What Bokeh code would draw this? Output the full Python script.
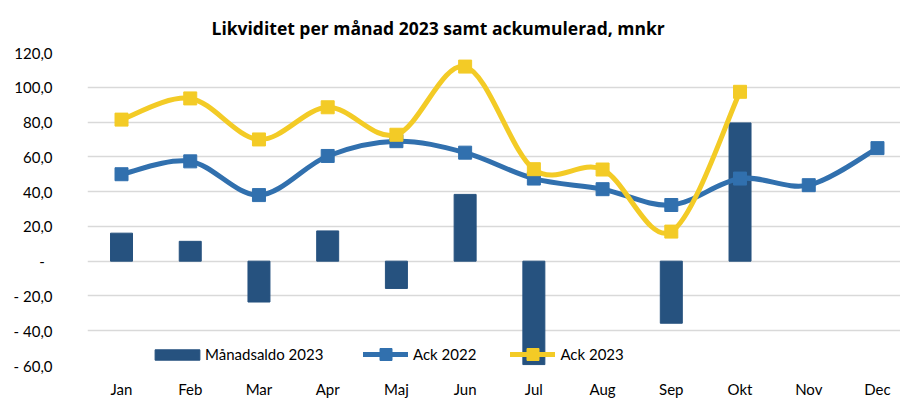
from bokeh.plotting import figure
from bokeh.models import (FixedTicker, Legend, LegendItem, ColumnDataSource, Range1d)
from bokeh.embed import file_html
from bokeh.resources import INLINE

title_text = "Likviditet per månad 2023 samt ackumulerad, mnkr"
months = ["Jan", "Feb", "Mar", "Apr", "Maj", "Jun", "Jul", "Aug", "Sep", "Okt", "Nov", "Dec"]
manadsaldo_2023 = [16.1, 11.4, -23.5, 17.4, -15.7, 38.4, -59.5, None, -35.7, 79.5, None, None]
ack_2022 = [50.0, 57.4, 38.0, 60.5, 69.0, 62.4, 47.5, 41.4, 32.3, 47.5, 43.7, 65.0]
ack_2023 = [81.4, 93.6, 70.0, 88.5, 72.7, 111.9, 52.9, 52.7, 17.0, 97.4, None, None]
y_ticks = [-60, -40, -20, 0, 20, 40, 60, 80, 100, 120]
y_tick_labels = ["-\u00a060,0", "-\u00a040,0", "-\u00a020,0", "-\u00a0\u00a0", "20,0", "40,0",
                 "60,0", "80,0", "100,0", "120,0"]

BAR = "#26527F"
BLUE = "#3170AE"
YELLOW = "#F3CB26"
FONT = "Lato"


def smooth_segments(xs, ys):
    """Excel-like smoothed line: cubic Bezier segments (Catmull-Rom control points)."""
    pts = [(x, y) for x, y in zip(xs, ys) if y is not None]
    x0s, y0s, x1s, y1s, cx0, cy0, cx1, cy1 = ([] for _ in range(8))
    n = len(pts)
    for i in range(n - 1):
        p0 = pts[i - 1] if i > 0 else pts[i]
        p1 = pts[i]
        p2 = pts[i + 1]
        p3 = pts[i + 2] if i + 2 < n else pts[i + 1]
        x0s.append(p1[0]); y0s.append(p1[1])
        x1s.append(p2[0]); y1s.append(p2[1])
        cx0.append(p1[0] + (p2[0] - p0[0]) / 6); cy0.append(p1[1] + (p2[1] - p0[1]) / 6)
        cx1.append(p2[0] - (p3[0] - p1[0]) / 6); cy1.append(p2[1] - (p3[1] - p1[1]) / 6)
    return dict(x0=x0s, y0=y0s, x1=x1s, y1=y1s, cx0=cx0, cy0=cy0, cx1=cx1, cy1=cy1)


idx = list(range(len(months)))

p = figure(width=900, height=400, output_backend="svg", toolbar_location=None,
           x_range=Range1d(-0.495, 11.335), y_range=Range1d(-60, 120),
           min_border_left=87, min_border_right=0, min_border_top=52, min_border_bottom=33)

p.title.text = title_text
p.title.text_font = "Open Sans"
p.title.text_font_size = "17.5px"
p.title.text_font_style = "bold"
p.title.text_color = "#000000"
p.title.align = "left"
p.title.offset = 124
p.title.standoff = 26

p.outline_line_color = None
p.xgrid.grid_line_color = None
p.ygrid.grid_line_color = "#D9D9D9"
p.ygrid.grid_line_width = 1.5
p.ygrid.ticker = FixedTicker(ticks=y_ticks)

p.yaxis.ticker = FixedTicker(ticks=y_ticks)
p.yaxis.major_label_overrides = {t: l for t, l in zip(y_ticks, y_tick_labels)}
p.xaxis.ticker = FixedTicker(ticks=idx)
p.xaxis.major_label_overrides = {i: m for i, m in zip(idx, months)}
for ax in (p.xaxis, p.yaxis):
    ax.axis_line_color = None
    ax.major_tick_line_color = None
    ax.minor_tick_line_color = None
    ax.major_tick_out = 0
    ax.major_tick_in = 0
    ax.minor_tick_out = 0
    ax.minor_tick_in = 0
    ax.major_label_text_font = FONT
    ax.major_label_text_font_size = "15px"
    ax.major_label_text_color = "#000000"
p.yaxis.major_label_standoff = 35
p.xaxis.major_label_standoff = 14

bar_x = [i for i, v in zip(idx, manadsaldo_2023) if v is not None]
bar_v = [v for v in manadsaldo_2023 if v is not None]
bars = p.vbar(x=bar_x, top=bar_v, bottom=0, width=0.32, fill_color=BAR, line_color=BAR)

seg22 = ColumnDataSource(smooth_segments(idx, ack_2022))
l22 = p.bezier(x0="x0", y0="y0", x1="x1", y1="y1", cx0="cx0", cy0="cy0", cx1="cx1", cy1="cy1",
               source=seg22, line_color=BLUE, line_width=5, line_cap="round")
m22 = p.scatter(x=idx, y=ack_2022, marker="square", size=13, fill_color=BLUE, line_color=BLUE)

x23 = [i for i, v in zip(idx, ack_2023) if v is not None]
y23 = [v for v in ack_2023 if v is not None]
seg23 = ColumnDataSource(smooth_segments(x23, y23))
l23 = p.bezier(x0="x0", y0="y0", x1="x1", y1="y1", cx0="cx0", cy0="cy0", cx1="cx1", cy1="cy1",
               source=seg23, line_color=YELLOW, line_width=5, line_cap="round")
m23 = p.scatter(x=x23, y=y23, marker="square", size=13, fill_color=YELLOW, line_color=YELLOW)


def style_legend(lg):
    lg.background_fill_alpha = 0
    lg.border_line_color = None
    lg.label_text_font = FONT
    lg.label_text_font_size = "15px"
    lg.label_text_color = "#000000"
    lg.padding = 0
    lg.margin = 0
    lg.label_height = 20


legend_bar = Legend(items=[LegendItem(label="Månadsaldo 2023", renderers=[bars])],
                    orientation="horizontal", location=(62, 1))
style_legend(legend_bar)
legend_bar.glyph_width = 56
legend_bar.glyph_height = 13
legend_bar.label_standoff = 0
p.add_layout(legend_bar)

legend_lines = Legend(items=[
    LegendItem(label="Ack 2022", renderers=[l22, m22]),
    LegendItem(label="Ack 2023", renderers=[l23, m23]),
], orientation="horizontal", location=(276, -4))
style_legend(legend_lines)
legend_lines.glyph_width = 45
legend_lines.glyph_height = 30
legend_lines.label_standoff = 5
legend_lines.spacing = 34
p.add_layout(legend_lines)

open("out.html", "w").write(file_html(p, INLINE))
